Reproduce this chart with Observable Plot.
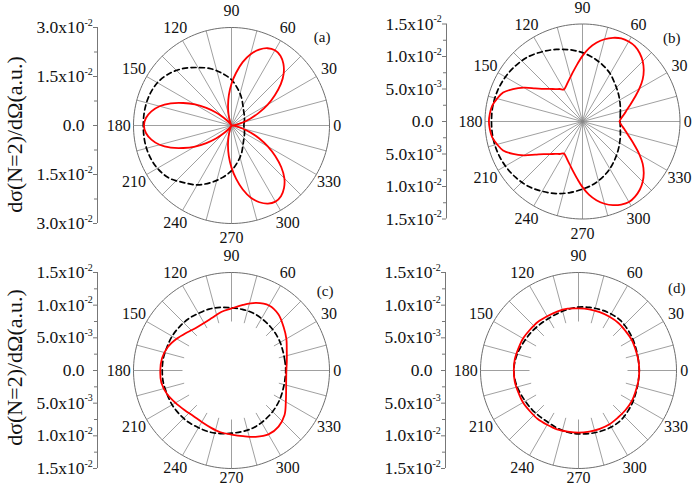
<!DOCTYPE html>
<html><head><meta charset="utf-8">
<script src="https://cdn.jsdelivr.net/npm/d3@7"></script>
<script src="https://cdn.jsdelivr.net/npm/@observablehq/plot@0.6"></script>
<style>
html,body{margin:0;padding:0;background:#fff;}
#fig{position:relative;width:692px;height:487px;overflow:hidden;}
#fig > div{position:absolute;width:346px;height:244px;}
#fig svg{overflow:visible;font-family:'Liberation Serif',serif !important;}
#fig svg text{font-family:'Liberation Serif',serif !important;}
</style></head><body><div id="fig"></div>
<script>
// ---- sampling angles (degrees) ----
const angles5 = [0,5,10,15,20,25,30,35,40,45,50,55,60,65,70,75,80,85,90,95,100,105,110,115,120,125,130,135,140,145,150,155,160,165,170,175,180,185,190,195,200,205,210,215,220,225,230,235,240,245,250,255,260,265,270,275,280,285,290,295,300,305,310,315,320,325,330,335,340,345,350,355];
const angles10 = [0,10,20,30,40,50,60,70,80,90,100,110,120,130,140,150,160,170,180,190,200,210,220,230,240,250,260,270,280,290,300,310,320,330,340,350];

// ---- series values (a.u.) ----
const redA = [0,0.0004,0.0016,0.0035,0.0061,0.0093,0.0128,0.0162,0.0197,0.0226,0.0247,0.0261,0.0266,0.0261,0.0247,0.0226,0.0197,0.0162,0.0128,0.0093,0.0061,0.0035,0.0016,0.0004,
  0,0.0004,0.0016,0.0035,0.0062,0.0094,0.0129,0.0163,0.0198,0.0228,0.0249,0.0263,0.0268,0.0263,0.0249,0.0228,0.0198,0.0163,0.0129,0.0094,0.0062,0.0035,0.0016,0.0004,
  0,0.0004,0.0016,0.0035,0.0062,0.0094,0.0129,0.0164,0.0199,0.0229,0.0250,0.0264,0.0269,0.0264,0.0250,0.0229,0.0199,0.0164,0.0129,0.0094,0.0062,0.0035,0.0016,0.0004];
const dashA = [0.0038,0.0039,0.0042,0.0046,0.0051,0.0058,0.0070,0.0090,0.0113,0.0140,0.0162,0.0185,0.0205,0.0228,0.0248,0.0262,0.0268,0.0270,0.0270,0.0270,0.0268,0.0262,0.0250,0.0228,0.0210,0.0186,0.0162,0.0138,0.0112,0.0090,0.0070,0.0058,0.0051,0.0046,0.0042,0.0039];

const redB = [0.0057,0.0060,0.0065,0.0071,0.0079,0.0089,0.0101,0.0113,0.0123,0.0131,0.0137,0.0141,0.0142,0.0141,0.0137,0.0131,0.0123,0.0113,0.0101,0.0089,0.0079,0.0071,0.0065,0.0060,
  0.0057,0.0061,0.0065,0.0071,0.0078,0.0089,0.0104,0.0118,0.0130,0.0136,0.0141,0.0143,0.0144,0.0143,0.0141,0.0136,0.0130,0.0118,0.0104,0.0089,0.0078,0.0071,0.0065,0.0061,
  0.0057,0.0060,0.0065,0.0071,0.0079,0.0089,0.0101,0.0113,0.0123,0.0131,0.0137,0.0141,0.0143,0.0141,0.0137,0.0131,0.0123,0.0113,0.0101,0.0089,0.0079,0.0071,0.0065,0.0060];
const dashB = [0.0058,0.0059,0.0062,0.0066,0.0071,0.0077,0.0085,0.0092,0.0099,0.0106,0.0112,0.0118,0.0124,0.0130,0.0134,0.0137,0.0139,0.0140,0.0140,0.0140,0.0139,0.0137,0.0134,0.0130,0.0124,0.0118,0.0111,0.0104,0.0098,0.0091,0.0084,0.0077,0.0071,0.0066,0.0062,0.0059];

const redC = [0.0084,0.0086,0.0090,0.0097,0.0104,0.0112,0.0115,0.0110,0.0102,0.0095,0.0091,0.0086,0.0084,0.0085,0.0090,0.0097,0.0104,0.0108,0.0109,0.0109,0.0105,0.0099,0.0094,0.0091,0.0091,0.0093,0.0096,0.0098,0.0102,0.0108,0.0113,0.0112,0.0106,0.0096,0.0089,0.0085];
const dashC = [0.0083,0.0083,0.0084,0.0086,0.0088,0.0090,0.0092,0.0094,0.0095,0.0096,0.0098,0.0100,0.0101,0.0103,0.0104,0.0105,0.0105,0.0106,0.0106,0.0106,0.0105,0.0105,0.0104,0.0103,0.0101,0.0100,0.0098,0.0096,0.0095,0.0094,0.0092,0.0090,0.0088,0.0086,0.0084,0.0083];

const redD = [0.0093,0.0093,0.0093,0.0094,0.0094,0.0095,0.0095,0.0095,0.0095,0.0095,0.0096,0.0096,0.0096,0.0097,0.0097,0.0098,0.0098,0.0099,0.0099,0.0099,0.0098,0.0098,0.0097,0.0097,0.0096,0.0096,0.0095,0.0095,0.0095,0.0095,0.0095,0.0094,0.0094,0.0094,0.0093,0.0093];
const dashD = [0.0093,0.0093,0.0094,0.0096,0.0098,0.0100,0.0100,0.0099,0.0098,0.0097,0.0095,0.0093,0.0092,0.0092,0.0093,0.0094,0.0096,0.0098,0.0099,0.0098,0.0096,0.0094,0.0093,0.0092,0.0092,0.0094,0.0096,0.0097,0.0098,0.0099,0.0100,0.0100,0.0098,0.0096,0.0094,0.0093];

// ---- axes / labels ----
const angleTicks = [0,30,60,90,120,150,180,210,240,270,300,330];
const angleTickLabels = ["0","30","60","90","120","150","180","210","240","270","300","330"];
const gridAngles = [0,15,30,45,60,75,90,105,120,135,150,165,180,195,210,225,240,255,270,285,300,315,330,345];
const yTicksA = [0.03, 0.015, 0, -0.015, -0.03];
const yTickLabelsA = ["3.0x10^-2","1.5x10^-2","0.0","1.5x10^-2","3.0x10^-2"];
const yMinorA = [0.0225, 0.0075, -0.0075, -0.0225];
const yTicksB = [0.015, 0.01, 0.005, 0, -0.005, -0.01, -0.015];
const yTickLabelsB = ["1.5x10^-2","1.0x10^-2","5.0x10^-3","0.0","5.0x10^-3","1.0x10^-2","1.5x10^-2"];
const yMinorB = [0.0125, 0.0075, 0.0025, -0.0025, -0.0075, -0.0125];
const yTitle = "dσ(N=2)/dΩ(a.u.)";
const panelNames = ["(a)","(b)","(c)","(d)"];

const FONT = "'Liberation Serif', serif";
const rad = d => d * Math.PI / 180;
const W = 346, H = 244;

function polarPanel(o) {
  const k = o.Rpx / o.R;
  const xmin = (o.axisX - o.cx) / k, xmax = (W - o.cx) / k;
  const red = o.redAngles.map((a, i) => ({a, r: o.red[i]}));
  const dash = o.dashAngles.map((a, i) => ({a, r: o.dash[i]}));
  const ticks = o.ticks.map((v, i) => { const [b, s] = o.tickLabels[i].split("^"); return {v, b, s: s || ""}; });
  const rim = d3.range(0, 360, 2);
  const labR = (a, i) => {
    const f = angleTickLabels[i].length === 1 ? 1.08 : a === 90 ? 1.17 : a === 270 ? o.f270 : 1.15;
    return f * o.R;
  };
  const marks = [
    Plot.link(gridAngles, {
      x1: a => o.rin * o.R * Math.cos(rad(a)), y1: a => o.rin * o.R * Math.sin(rad(a)),
      x2: a => o.R * Math.cos(rad(a)), y2: a => o.R * Math.sin(rad(a)),
      stroke: "#888", strokeWidth: 0.8
    }),
    Plot.line(rim, {x: a => o.R * Math.cos(rad(a)), y: a => o.R * Math.sin(rad(a)), curve: "linear-closed", stroke: "#6e6e6e", strokeWidth: 1}),
    Plot.ruleX([xmin], {stroke: "#777", strokeWidth: 1}),
    Plot.axisY(o.ticks, {tickSize: 4, stroke: "#777", fill: "none"}),
    Plot.axisY(o.minor, {tickSize: 3, stroke: "#777", fill: "none"}),
    Plot.text(ticks, {y: "v", text: "b", frameAnchor: "left", textAnchor: "end", dx: -13, fontSize: 17.5, fill: "#111"}),
    Plot.text(ticks.filter(d => d.s), {y: "v", text: "s", frameAnchor: "left", textAnchor: "start", dx: -13, dy: -5, fontSize: 10, fill: "#111"}),
    Plot.line(dash, {x: d => d.r * Math.cos(rad(d.a)), y: d => d.r * Math.sin(rad(d.a)), curve: "catmull-rom-closed", stroke: "#000", strokeWidth: 1.7, strokeDasharray: "5,3.5"}),
    Plot.line(red, {x: d => d.r * Math.cos(rad(d.a)), y: d => d.r * Math.sin(rad(d.a)), curve: "catmull-rom-closed", stroke: "#ff0000", strokeWidth: 1.8}),
    Plot.text(angleTicks, {x: (a, i) => labR(a, i) * Math.cos(rad(a)), y: (a, i) => labR(a, i) * Math.sin(rad(a)), text: (a, i) => angleTickLabels[i], fontSize: 16, fill: "#111"}),
    Plot.text([o.name], {frameAnchor: "top-right", dx: o.ndx, dy: o.ndy, fontSize: 15, fill: "#111"})
  ];
  if (o.title) marks.push(Plot.text([yTitle], {frameAnchor: "left", textAnchor: "middle", lineAnchor: "middle", rotate: -90, dx: 14 - o.axisX, dy: o.tdy, fontSize: 22, fill: "#111"}));
  return Plot.plot({
    width: W, height: H,
    marginLeft: o.axisX, marginRight: 0,
    marginTop: o.cy - o.Rpx, marginBottom: H - o.cy - o.Rpx,
    x: {domain: [xmin, xmax], axis: null},
    y: {domain: [-o.R, o.R]},
    style: {overflow: "visible", background: "none", color: "#111"},
    marks
  });
}

const panels = [
  {left: 0, top: 0, R: 0.03, Rpx: 98, cx: 231, cy: 125, axisX: 97, rin: 0, f270: 1.15,
   ticks: yTicksA, tickLabels: yTickLabelsA, minor: yMinorA,
   redAngles: angles5, red: redA, dashAngles: angles10, dash: dashA,
   name: panelNames[0], ndx: -16, ndy: 4, title: true, tdy: 9},
  {left: 346, top: 0, R: 0.015, Rpx: 97.5, cx: 236, cy: 121, axisX: 100, rin: 0, f270: 1.15,
   ticks: yTicksB, tickLabels: yTickLabelsB, minor: yMinorB,
   redAngles: angles5, red: redB, dashAngles: angles10, dash: dashB,
   name: panelNames[1], ndx: -12, ndy: 8, title: false},
  {left: 0, top: 243, R: 0.015, Rpx: 98, cx: 231, cy: 127, axisX: 97, rin: 0.5, f270: 1.1,
   ticks: yTicksB, tickLabels: yTickLabelsB, minor: yMinorB,
   redAngles: angles10, red: redC, dashAngles: angles10, dash: dashC,
   name: panelNames[2], ndx: -13, ndy: 13, title: true, tdy: -3},
  {left: 346, top: 243, R: 0.015, Rpx: 98, cx: 232, cy: 127, axisX: 99, rin: 0.5, f270: 1.1,
   ticks: yTicksB, tickLabels: yTickLabelsB, minor: yMinorB,
   redAngles: angles10, red: redD, dashAngles: angles10, dash: dashD,
   name: panelNames[3], ndx: -7, ndy: 10, title: false}
];

const fig = document.getElementById("fig");
for (const p of panels) {
  const div = document.createElement("div");
  div.style.left = p.left + "px";
  div.style.top = p.top + "px";
  const svg = polarPanel(p);
  svg.style.fontFamily = FONT;
  div.appendChild(svg);
  fig.appendChild(div);
}
</script></body></html>
